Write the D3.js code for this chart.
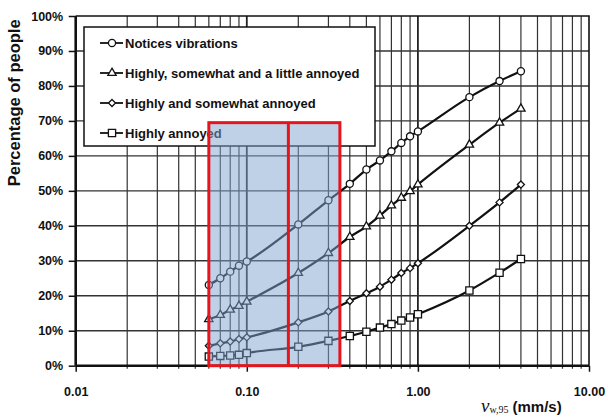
<!DOCTYPE html>
<html>
<head>
<meta charset="utf-8">
<script src="https://cdn.jsdelivr.net/npm/d3@7"></script>
<style>
  body { margin: 0; background: #fff; }
  text { font-family: "Liberation Sans", Arial, sans-serif; font-weight: bold; }
</style>
</head>
<body>
<svg id="chart" width="608" height="419"></svg>
<script>
// vibration velocity values (mm/s) where the curves were sampled
const speeds = [0.06, 0.07, 0.08, 0.09, 0.1, 0.2, 0.3, 0.4, 0.5, 0.6, 0.7, 0.8, 0.9, 1, 2, 3, 4];

// percentage of people
const noticesVibrations = [23.1, 25.0, 26.9, 28.6, 29.8, 40.4, 47.3, 52.0, 56.1, 58.7, 61.3, 63.7, 65.6, 67.0, 76.8, 81.4, 84.2];
const littleAnnoyed     = [13.3, 14.5, 16.0, 17.1, 18.3, 26.5, 32.2, 36.8, 39.8, 42.9, 45.8, 48.0, 49.9, 51.8, 63.2, 69.5, 73.5];
const somewhatAnnoyed   = [5.7, 6.4, 6.9, 7.6, 8.1, 12.4, 15.5, 18.5, 20.7, 22.6, 24.6, 26.5, 27.9, 29.3, 40.0, 46.7, 51.8];
const highlyAnnoyed     = [2.6, 2.8, 2.9, 3.1, 3.6, 5.4, 7.1, 8.5, 9.7, 10.9, 11.9, 12.9, 13.8, 14.7, 21.5, 26.6, 30.5];

const seriesNames = [
  "Notices vibrations",
  "Highly, somewhat and a little annoyed",
  "Highly and somewhat annoyed",
  "Highly annoyed"
];

const yTicks = [0, 10, 20, 30, 40, 50, 60, 70, 80, 90, 100];
const xTicks = [0.01, 0.1, 1, 10];

// highlighted band: velocity range and top percentage, plus the divider
const bandRange = [0.06, 0.35];
const bandTop = 69.5;
const bandDivider = 0.175;

const svg = d3.select("#chart");

const x = d3.scaleLog().domain([0.01, 10]).range([75.7, 589]);
const y = d3.scaleLinear().domain([0, 100]).range([365.7, 16]);

// minor decade values for the log grid
const minorX = [];
[0.01, 0.1, 1].forEach((d) => {
  for (let k = 2; k <= 9; k++) minorX.push(d * k);
});

// grid
const grid = svg.append("g");
grid.selectAll("line.minor")
  .data(minorX)
  .enter()
  .append("line")
  .attr("x1", (d) => x(d)).attr("x2", (d) => x(d))
  .attr("y1", y(100)).attr("y2", y(0) + 3)
  .attr("stroke", "#333")
  .attr("stroke-width", 1.2);

grid.selectAll("line.major")
  .data([0.1, 1])
  .enter()
  .append("line")
  .attr("x1", (d) => x(d)).attr("x2", (d) => x(d))
  .attr("y1", y(100)).attr("y2", y(0))
  .attr("stroke", "#222")
  .attr("stroke-width", 1.8);

grid.selectAll("line.h")
  .data(yTicks.slice(1, -1))
  .enter()
  .append("line")
  .attr("x1", x(0.01)).attr("x2", x(10))
  .attr("y1", (d) => y(d)).attr("y2", (d) => y(d))
  .attr("stroke", "#333")
  .attr("stroke-width", 1.4);

// frame (top and right)
svg.append("path")
  .attr("d", `M${x(0.01)},${y(100)}H${x(10)}V${y(0)}`)
  .attr("fill", "none")
  .attr("stroke", "#111")
  .attr("stroke-width", 1.6);

// axes
const yAxis = svg.append("g")
  .attr("transform", `translate(${x(0.01)},0)`)
  .call(d3.axisLeft(y).tickValues(yTicks).tickFormat((d) => d + "%").tickSize(7).tickPadding(5.5));

const xAxis = svg.append("g")
  .attr("transform", `translate(0,${y(0)})`)
  .call(d3.axisBottom(x).tickValues(xTicks).tickFormat(d3.format(".2f")).tickSize(6).tickPadding(15));

[yAxis, xAxis].forEach((g) => {
  g.select(".domain").attr("stroke", "#111").attr("stroke-width", 2.6);
  g.selectAll(".tick line").attr("stroke", "#111").attr("stroke-width", 1.5);
  g.selectAll(".tick text")
    .attr("fill", "#111")
    .style("font-size", "12.5px")
    .style("font-family", "'Liberation Sans', Arial, sans-serif")
    .style("font-weight", "bold");
});
yAxis.select(".domain").attr("d", `M0,${y(100)}V${y(0)}`);
xAxis.select(".domain").attr("d", `M${x(0.01)},0H${x(10)}`);

// axis titles
svg.append("text")
  .attr("transform", `translate(19.5,${y(50) - 88}) rotate(-90)`)
  .attr("text-anchor", "middle")
  .style("font-size", "16.5px")
  .attr("fill", "#111")
  .text("Percentage of people");

const xTitle = svg.append("text")
  .attr("x", 481)
  .attr("y", 412)
  .attr("fill", "#111");
xTitle.append("tspan")
  .style("font-family", "'Liberation Serif', 'Times New Roman', serif")
  .style("font-style", "italic")
  .style("font-weight", "normal")
  .style("font-size", "19px")
  .text("ν");
xTitle.append("tspan")
  .style("font-family", "'Liberation Serif', 'Times New Roman', serif")
  .style("font-weight", "normal")
  .style("font-size", "10px")
  .attr("dy", 1)
  .text("w,95");
xTitle.append("tspan")
  .attr("dx", 4)
  .attr("dy", -1)
  .style("font-size", "15px")
  .text("(mm/s)");

// legend box
const legend = svg.append("g");
legend.append("rect")
  .attr("x", 84).attr("y", 27)
  .attr("width", 291).attr("height", 119)
  .attr("fill", "#fff")
  .attr("stroke", "#111")
  .attr("stroke-width", 1.5);

const diamond = d3.symbolDiamond2 || d3.symbolDiamond;
const symbols = [
  d3.symbol().type(d3.symbolCircle).size(40),
  d3.symbol().type(d3.symbolTriangle).size(30),
  d3.symbol().type(diamond).size(32),
  d3.symbol().type(d3.symbolSquare).size(52)
];

const allSeries = [noticesVibrations, littleAnnoyed, somewhatAnnoyed, highlyAnnoyed];

seriesNames.forEach((name, i) => {
  const ly = 43 + i * 30;
  const item = legend.append("g").attr("transform", `translate(0,${ly})`);
  item.append("line")
    .attr("x1", 100).attr("x2", 123)
    .attr("stroke", "#111").attr("stroke-width", 1.8);
  item.append("path")
    .attr("d", symbols[i]())
    .attr("transform", "translate(112,0)")
    .attr("fill", "#fff").attr("stroke", "#111").attr("stroke-width", 1.3);
  item.append("text")
    .attr("x", 125).attr("y", 5)
    .style("font-size", "13px")
    .attr("fill", "#111")
    .text(name);
});

// series
const line = d3.line()
  .x((d) => x(d[0]))
  .y((d) => y(d[1]))
  .curve(d3.curveMonotoneX);

allSeries.forEach((values, i) => {
  const pts = speeds.map((s, j) => [s, values[j]]);
  const g = svg.append("g");
  g.append("path")
    .datum(pts)
    .attr("d", line)
    .attr("fill", "none")
    .attr("stroke", "#111")
    .attr("stroke-width", 2.2);
  g.selectAll("path.pt")
    .data(pts)
    .enter()
    .append("path")
    .attr("class", "pt")
    .attr("d", symbols[i]())
    .attr("transform", (d) => `translate(${x(d[0])},${y(d[1])})`)
    .attr("fill", "#fff")
    .attr("stroke", "#111")
    .attr("stroke-width", 1.3);
});

// highlighted band drawn over everything
svg.append("rect")
  .attr("x", x(bandRange[0]))
  .attr("y", y(bandTop))
  .attr("width", x(bandRange[1]) - x(bandRange[0]))
  .attr("height", y(0) - y(bandTop))
  .attr("fill", "#7fa3cf")
  .attr("fill-opacity", 0.5)
  .attr("stroke", "#e8141b")
  .attr("stroke-width", 3);

svg.append("line")
  .attr("x1", x(bandDivider)).attr("x2", x(bandDivider))
  .attr("y1", y(bandTop)).attr("y2", y(0))
  .attr("stroke", "#e8141b")
  .attr("stroke-width", 3);
</script>
</body>
</html>
